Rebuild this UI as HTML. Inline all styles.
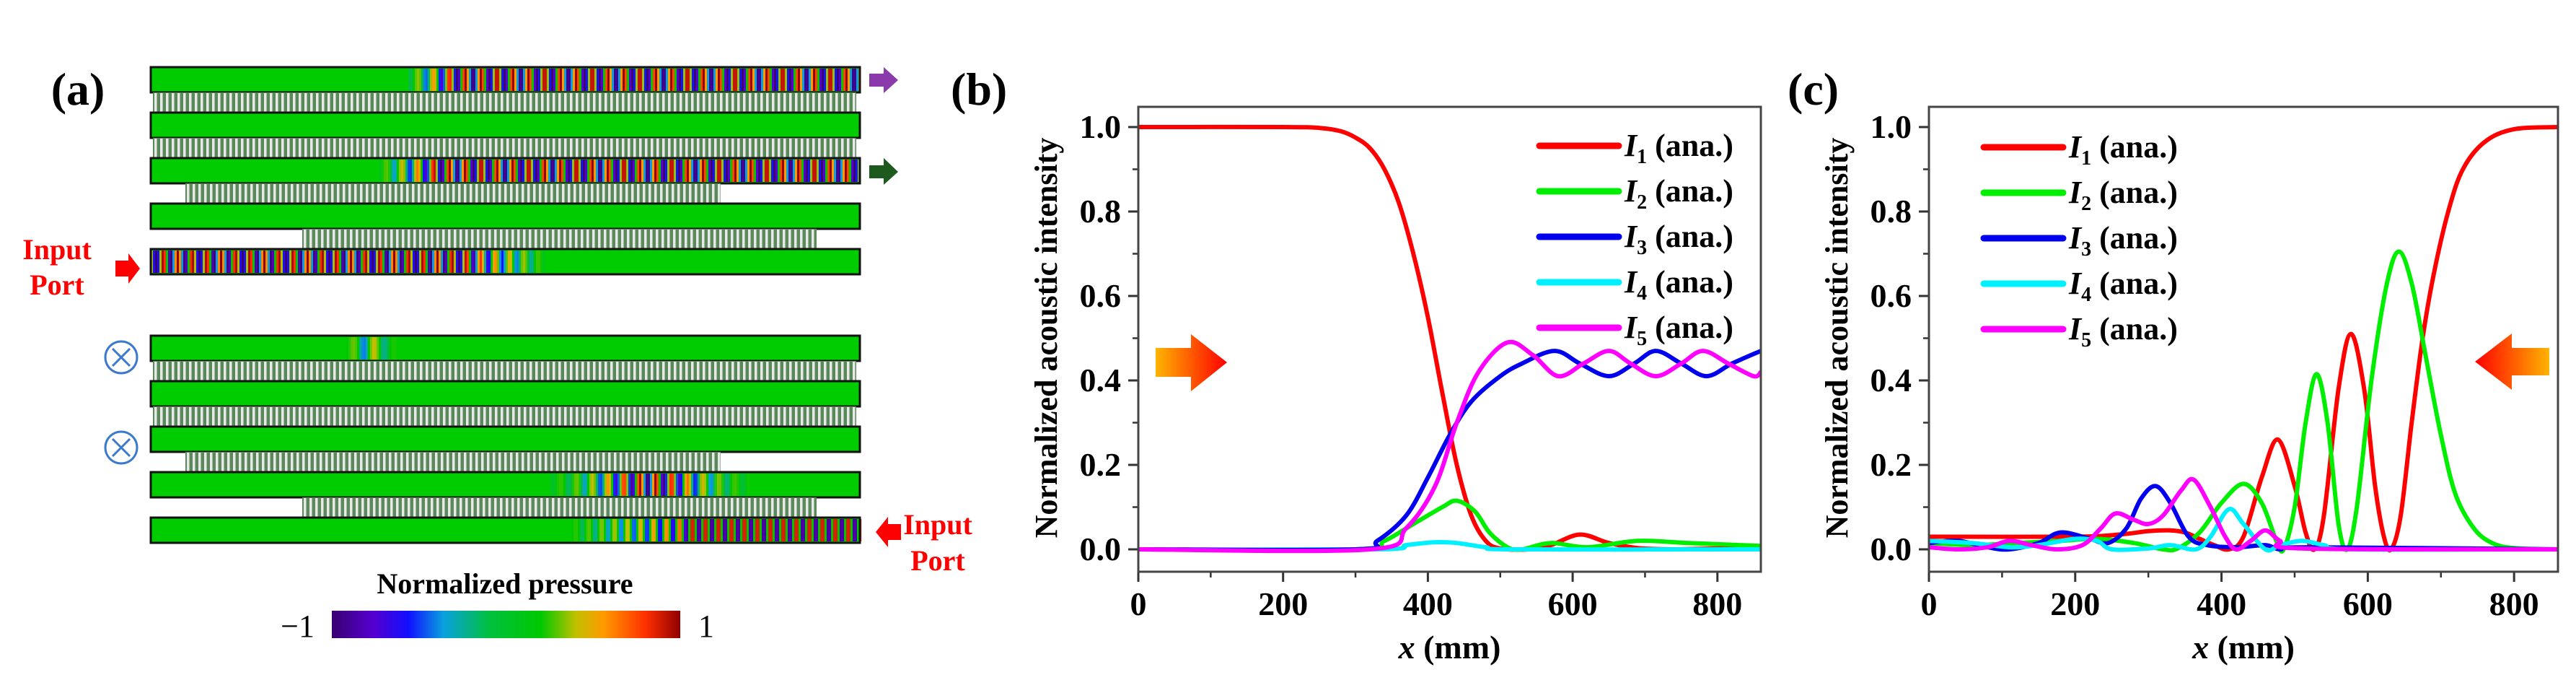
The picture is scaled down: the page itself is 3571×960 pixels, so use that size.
<!DOCTYPE html>
<html><head><meta charset="utf-8"><style>
body{margin:0;background:#fff;}
svg{display:block;}
svg text{font-family:"Liberation Serif","DejaVu Serif",serif;}
</style></head><body>
<svg id="fig" width="3571" height="960" viewBox="0 0 3571 960" xmlns="http://www.w3.org/2000/svg" font-family="Liberation Serif, DejaVu Serif, serif">
<defs>
<linearGradient id="cbar" x1="0" x2="1" y1="0" y2="0">
<stop offset="0" stop-color="#3a0070"/><stop offset="0.12" stop-color="#5500d0"/><stop offset="0.22" stop-color="#1010ff"/><stop offset="0.32" stop-color="#0aa0e0"/><stop offset="0.45" stop-color="#00c040"/><stop offset="0.6" stop-color="#00c800"/><stop offset="0.7" stop-color="#c0c000"/><stop offset="0.78" stop-color="#ff9a00"/><stop offset="0.9" stop-color="#ff3000"/><stop offset="1" stop-color="#900000"/>
</linearGradient>
<linearGradient id="arrR" x1="0" x2="1" y1="0" y2="0"><stop offset="0" stop-color="#ffb400"/><stop offset="1" stop-color="#ff0000"/></linearGradient>
<linearGradient id="arrL" x1="1" x2="0" y1="0" y2="0"><stop offset="0" stop-color="#ffb400"/><stop offset="1" stop-color="#ff0000"/></linearGradient>
</defs>
<g id="panelA"></g>
<g id="panelB"></g>
<g id="panelC"></g>
</svg>
<script>
// ---------- Panel (b) data ----------
const bX = [0,200,250,280,300,320,340,360,380,400,420,440,460,480,500,540,570,610,650,690,740,800,860];
const bI1 = [1,1,0.998,0.99,0.975,0.95,0.9,0.82,0.7,0.55,0.37,0.2,0.08,0.02,0.002,0,0.01,0.035,0.015,0.003,0,0.002,0];
const bX2 = [0,300,340,380,420,440,465,485,510,530,570,620,690,760,860];
const bI2 = [0,0,0.02,0.06,0.1,0.115,0.09,0.04,0.005,0,0.015,0.005,0.02,0.015,0.008];
const bX3 = [0,300,330,370,400,430,460,500,530,575,610,650,685,715,750,785,820,860];
const bI3 = [0,0,0.02,0.08,0.17,0.27,0.35,0.41,0.44,0.47,0.44,0.41,0.44,0.47,0.44,0.41,0.44,0.47];
const bX4 = [0,330,370,410,440,480,520,860];
const bI4 = [0,0,0.01,0.017,0.015,0.005,0,0];
const bX5 = [0,320,370,410,440,470,510,545,580,615,650,680,715,750,780,815,850,860];
const bI5 = [0,0,0.05,0.15,0.3,0.42,0.49,0.46,0.41,0.44,0.47,0.44,0.41,0.44,0.47,0.44,0.41,0.42];
// ---------- Panel (c) data ----------
const cX1 = [0,200,260,300,330,350,370,390,410,430,455,477,500,515,527,540,560,577,595,610,622,632,645,660,675,690,710,730,760,800,860];
const cI1 = [0.03,0.03,0.035,0.043,0.045,0.04,0.025,0.01,0,0.03,0.17,0.26,0.15,0.04,0,0.08,0.38,0.51,0.38,0.15,0.03,0,0.08,0.3,0.5,0.65,0.8,0.9,0.965,0.995,1];
const cX2 = [0,60,120,180,230,280,320,340,370,400,430,455,475,485,500,515,530,545,560,572,585,605,625,642,660,680,700,720,745,770,800,860];
const cI2 = [0.015,0.01,0.015,0.02,0.025,0.015,0,0.002,0.04,0.11,0.155,0.11,0.02,0,0.1,0.3,0.415,0.3,0.06,0,0.1,0.4,0.62,0.705,0.63,0.45,0.27,0.13,0.05,0.015,0.003,0];
const cX3 = [0,40,80,110,150,180,220,245,270,290,310,330,355,380,420,460,480,520,860];
const cI3 = [0.015,0.02,0.005,0,0.015,0.04,0.025,0.015,0.05,0.12,0.15,0.11,0.03,0.01,0.005,0.01,0,0.005,0];
const cX4 = [0,60,110,150,200,230,250,300,330,365,385,410,430,460,480,510,540,580,860];
const cI4 = [0.02,0.015,0.005,0.01,0.025,0.02,0,0.002,0.01,0,0.03,0.095,0.06,0,0.01,0.02,0.01,0,0];
const cX5 = [0,40,80,110,140,175,210,235,255,280,300,320,345,362,385,405,420,440,460,480,510,860];
const cI5 = [0.005,0,0.005,0.02,0.01,0,0.01,0.05,0.085,0.07,0.06,0.08,0.14,0.165,0.1,0.03,0,0.02,0.045,0.02,0.002,0];
const xTicks = [0,200,400,600,800];
const yTicks = [0.0,0.2,0.4,0.6,0.8,1.0];
const yTickLabels = ["0.0","0.2","0.4","0.6","0.8","1.0"];
const legendLabels = ["1","2","3","4","5"];
const seriesColors = ["#ff0000","#00ee00","#0000ee","#00f0ff","#ff00ff"];

const NS="http://www.w3.org/2000/svg";
const FF="Liberation Serif, DejaVu Serif, serif";
function mk(tag,attrs,parent){const e=document.createElementNS(NS,tag);for(const k in attrs)e.setAttribute(k,attrs[k]);if(tag==="text")e.setAttribute("font-family",FF);if(parent)parent.appendChild(e);return e;}
function smooth(pts){let d="M"+pts[0][0].toFixed(1)+","+pts[0][1].toFixed(1);
 for(let i=0;i<pts.length-1;i++){const p0=pts[Math.max(0,i-1)],p1=pts[i],p2=pts[i+1],p3=pts[Math.min(pts.length-1,i+2)];
 const c1x=p1[0]+(p2[0]-p0[0])/6,c1y=p1[1]+(p2[1]-p0[1])/6,c2x=p2[0]-(p3[0]-p1[0])/6,c2y=p2[1]-(p3[1]-p1[1])/6;
 d+=" C"+c1x.toFixed(1)+","+c1y.toFixed(1)+" "+c2x.toFixed(1)+","+c2y.toFixed(1)+" "+p2[0].toFixed(1)+","+p2[1].toFixed(1);}
 return d;}

function panel(g,opt){
 const L=opt.left,R=opt.right,T=148,B=792;
 const xS=v=>L+v*(R-L)/opt.xmax;
 const yS=v=>761-v*585;
 for(let v=100;v<opt.xmax;v+=200){const t=mk("line",{x1:xS(v),x2:xS(v),y1:B,y2:B+8,stroke:"#333","stroke-width":2.5},g);
  }
 xTicks.forEach(v=>{const t=mk("line",{x1:xS(v),x2:xS(v),y1:B,y2:B+14,stroke:"#333","stroke-width":3},g);
  
  const tx=mk("text",{x:xS(v),y:852,"font-size":46,"font-weight":"bold","text-anchor":"middle"},g);tx.textContent=v;
  });
 for(let v=0.1;v<1.05;v+=0.2){const t=mk("line",{x1:L-8,x2:L,y1:yS(v),y2:yS(v),stroke:"#333","stroke-width":2.5},g);
  }
 yTicks.forEach((v,i)=>{const t=mk("line",{x1:L-14,x2:L,y1:yS(v),y2:yS(v),stroke:"#333","stroke-width":3},g);
  
  const tx=mk("text",{x:L-24,y:yS(v)+15,"font-size":46,"font-weight":"bold","text-anchor":"end"},g);tx.textContent=yTickLabels[i];
  });
 const clip="clip"+opt.id;const cp=mk("clipPath",{id:clip},g);mk("rect",{x:L,y:T,width:R-L,height:B-T},cp);
 opt.order.forEach(k=>{const s=opt.series[k];const pts=s[0].map((x,i)=>[xS(x),yS(s[1][i])]);
  const p=mk("path",{d:smooth(pts),fill:"none",stroke:seriesColors[k],"stroke-width":6,"clip-path":"url(#"+clip+")","stroke-linejoin":"round"},g);
  });
 const f=mk("rect",{x:L,y:T,width:R-L,height:B-T,fill:"none",stroke:"#444","stroke-width":3},g);
 
 const yt=mk("text",{x:0,y:0,"font-size":44,"font-weight":"bold","text-anchor":"middle",transform:"translate("+(L-113)+",468) rotate(-90)"},g);
 yt.textContent="Normalized acoustic intensity";
 const xt=mk("text",{x:(L+R)/2,y:912,"font-size":46,"font-weight":"bold","text-anchor":"middle"},g);
 xt.innerHTML='<tspan font-style="italic">x</tspan> (mm)';
 legendLabels.forEach((lab,i)=>{const y=opt.legY+i*63;
  const ln=mk("line",{x1:opt.legX,x2:opt.legX+110,y1:y,y2:y,stroke:seriesColors[i],"stroke-width":9,"stroke-linecap":"round"},g);
  
  const t=mk("text",{x:opt.legX+118,y:y+14,"font-size":44,"font-weight":"bold"},g);
  t.innerHTML='<tspan font-style="italic">I</tspan><tspan font-size="28" dy="10">'+lab+'</tspan><tspan dy="-10"> (ana.)</tspan>';
  });
 const pl=mk("text",{x:opt.labX,y:145,"font-size":64,"font-weight":"bold"},g);pl.textContent=opt.label;
 
}
const gB=document.getElementById("panelB"),gC=document.getElementById("panelC");
panel(gB,{id:"b",left:1578,right:2441,xmax:860,legX:2134,legY:202,labX:1318,label:"(b)",order:[0,1,3,2,4],
 series:[[bX,bI1],[bX2,bI2],[bX3,bI3],[bX4,bI4],[bX5,bI5]]});
panel(gC,{id:"c",left:2674,right:3546,xmax:860,legX:2750,legY:204,labX:2478,label:"(c)",order:[0,1,2,3,4],
 series:[[cX1,cI1],[cX2,cI2],[cX3,cI3],[cX4,cI4],[cX5,cI5]]});
let a=mk("path",{d:"M1602,482 L1651,482 L1651,463 L1701,502 L1651,542 L1651,522 L1602,522 Z",fill:"url(#arrR)"},gB);

a=mk("path",{d:"M3534,482 L3482,482 L3482,462 L3431,501 L3482,540 L3482,520 L3534,520 Z",fill:"url(#arrL)"},gC);


// ---------- Panel (a) ----------
const gA=document.getElementById("panelA");
const X0=209,X1=1192;
function cmap(v){
 const stops=[[-1,[58,0,112]],[-0.75,[85,0,208]],[-0.55,[16,16,255]],[-0.3,[10,160,224]],[0,[0,200,0]],[0.35,[192,192,0]],[0.55,[255,154,0]],[0.8,[255,48,0]],[1,[144,0,0]]];
 for(let i=0;i<stops.length-1;i++){if(v<=stops[i+1][0]){const t=(v-stops[i][0])/(stops[i+1][0]-stops[i][0]);const c=stops[i][1].map((c0,j)=>Math.round(c0+t*(stops[i+1][1][j]-c0)));return "rgb("+c+")";}}
 return "rgb(144,0,0)";}
function strip(y,h,field){
 const g=mk("g",{},gA);
 mk("rect",{x:X0,y:y,width:X1-X0,height:h,fill:"#00cc00"},g);
 if(field){const [xa,xb,per,amp]=field;for(let x=xa;x<xb;x+=3){const env=amp(x);if(env<0.05)continue;
  mk("rect",{x:x,y:y+2,width:3.2,height:h-4,fill:cmap(Math.max(-1,Math.min(1,env*Math.sin(2*Math.PI*x/per))))},g);}}
 mk("rect",{x:X0,y:y,width:X1-X0,height:h,fill:"none",stroke:"#111","stroke-width":3},g);}
function grating(y,h,xa,xb){
 const g=mk("g",{},gA);
 mk("rect",{x:xa,y:y,width:xb-xa,height:h,fill:"#5a8a5a"},g);
 for(let x=xa+2;x<xb;x+=8)mk("rect",{x:x,y:y+1,width:3.5,height:h-2,fill:"#e8e8e8"},g);}
function group(top,fields){
 const sh=35,gh=28,p=63;
 for(let i=0;i<5;i++){const y=top+i*p;strip(y,sh,fields[i]);
  if(i<4){const gy=y+sh;if(i<2)grating(gy,gh,X0+3,X1-5);else if(i==2)grating(gy,gh,257,999);else grating(gy,gh,419,1132);}}
}
group(93,[[560,X1,22,x=>x<630?(x-560)/70:1],null,[520,X1,22,x=>x<600?(x-520)/80*0.9:1],null,[X0,760,20,x=>x<640?1:(760-x)/120]]);
group(465,[[480,720,30,x=>0.4*Math.exp(-Math.pow((x-510)/25,2))],null,null,[760,1040,22,x=>Math.exp(-Math.pow((x-900)/80,2))],[780,X1,18,x=>x>950?1:Math.max(0,(x-780)/170)*0.8]]);
a=mk("path",{d:"M1205,102 L1225,102 L1225,93 L1245,111 L1225,129 L1225,120 L1205,120 Z",fill:"#8a3aaa"},gA);

a=mk("path",{d:"M1205,229 L1225,229 L1225,219 L1245,238 L1225,256 L1225,247 L1205,247 Z",fill:"#1e5a1e"},gA);

a=mk("path",{d:"M160,361 L178,361 L178,351 L194,372 L178,393 L178,383 L160,383 Z",fill:"#ff0000"},gA);

a=mk("path",{d:"M1249,726 L1231,726 L1231,716 L1214,737 L1231,758 L1231,748 L1249,748 Z",fill:"#ff0000"},gA);

function txt(x,y,s,size,fill,name,anchor){const t=mk("text",{x:x,y:y,"font-size":size,"font-weight":"bold",fill:fill,"text-anchor":anchor||"middle"},gA);t.textContent=s;
 return t;}
txt(79,359,"Input",40,"#ff0000","input-port-label");txt(79,408,"Port",40,"#ff0000","input-port-label");
txt(1300,740,"Input",40,"#ff0000","input-port-label");txt(1300,790,"Port",40,"#ff0000","input-port-label");
txt(108,145,"(a)",64,"#000","panel-label");
[495,620].forEach(cy=>{const g=mk("g",{},gA);
 mk("circle",{cx:168,cy:cy,r:22,fill:"none",stroke:"#3a7acc","stroke-width":3},g);
 mk("path",{d:"M156,"+(cy-12)+" L180,"+(cy+12)+" M180,"+(cy-12)+" L156,"+(cy+12),stroke:"#3a7acc","stroke-width":3},g);});
txt(700,822,"Normalized pressure",40,"#000","colorbar-title");
a=mk("rect",{x:460,y:846,width:483,height:38,fill:"url(#cbar)"},gA);

const tm=mk("text",{x:436,y:882,"font-size":44,"text-anchor":"end"},gA);tm.textContent="\u22121";

const tp=mk("text",{x:968,y:882,"font-size":44,"text-anchor":"start"},gA);tp.textContent="1";

</script>
</body></html>
